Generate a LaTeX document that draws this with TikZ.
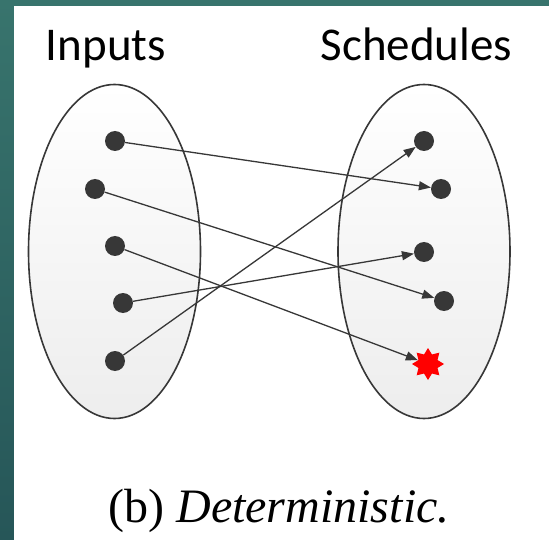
\documentclass[tikz,border=0pt]{standalone}
\usepackage{fontspec}
\newfontfamily\labelfont{Carlito}
\newfontfamily\capfont{Liberation Serif}
\usetikzlibrary{shapes.geometric, arrows.meta}
\definecolor{tealtop}{RGB}{56,116,109}
\definecolor{tealbot}{RGB}{38,86,88}
\definecolor{linegray}{RGB}{55,55,55}
\definecolor{dotgray}{RGB}{55,55,55}
\tikzset{
  setshape/.style={ellipse, draw=linegray, line width=1.6pt,
                   minimum width=172pt, minimum height=334pt,
                   top color=white, bottom color=gray!14, inner sep=0pt},
  elem/.style={circle, fill=dotgray, minimum size=20pt, inner sep=0pt},
  hit/.style={star, star points=8, star point ratio=1.55, fill=red,
              minimum size=32pt, inner sep=0pt},
  arr/.style={-{Triangle[length=12pt,width=9pt]}, draw=linegray, line width=1.3pt},
  hdr/.style={font=\labelfont\fontsize{47}{56}\selectfont, anchor=base, inner sep=0pt},
  captxt/.style={font=\capfont\fontsize{48}{56}\selectfont, anchor=base, inner sep=0pt},
}

\begin{document}
\begin{tikzpicture}[x=1pt, y=-1pt]
  \useasboundingbox (0,0) rectangle (549,540);
  % slide frame
  \shade[top color=tealtop, bottom color=tealbot] (0,0) rectangle (549,540);
  \fill[white] (14,6) rectangle (549,540);

  % the two sets
  \node[setshape] (inset)  at (114.5,251.5) {};
  \node[setshape] (schset) at (424,251.5) {};
  \node[hdr] (inlbl)  at (106,61)   {Inputs};
  \node[hdr] (schlbl) at (416.5,61) {Schedules};

  % inputs
  \node[elem] (in1) at (115,141) {};
  \node[elem] (in2) at (95,189)  {};
  \node[elem] (in3) at (115,246) {};
  \node[elem] (in4) at (123,303) {};
  \node[elem] (in5) at (115,361) {};

  % schedules
  \node[elem] (s1) at (424,141) {};
  \node[elem] (s2) at (441,189) {};
  \node[elem] (s3) at (424,252) {};
  \node[elem] (s4) at (444,301) {};
  \node[hit]  (bad) at (428,364) {};

  \draw[arr] (in1) -- (s2);
  \draw[arr] (in2) -- (s4);
  \draw[arr] (in3) -- (bad);
  \draw[arr] (in4) -- (s3);
  \draw[arr] (in5) -- (s1);

  \node[captxt] (caption) at (279,522) {(b) \textit{Deterministic.}};
\end{tikzpicture}
\end{document}
